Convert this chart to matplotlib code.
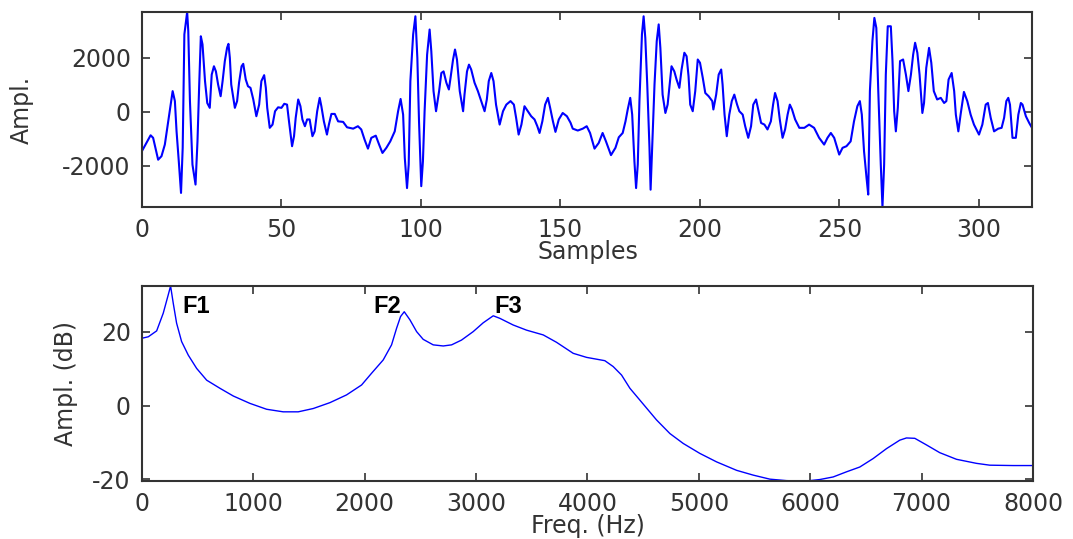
import matplotlib
matplotlib.use("Agg")
import matplotlib.pyplot as plt

# --- waveform (sample index, amplitude) ---
samples = [0, 3.1, 4, 5.8, 7, 8.2, 9.4, 11, 11.8, 12.4, 13.2, 14, 14.6, 15.2, 16.2, 16.6, 17.2, 18.1,
           19.2, 19.9, 20.5, 21.1, 21.7, 22.6, 23.4, 24.3, 25, 25.8, 26.5, 27.3, 28.2, 28.9, 29.7,
           30.5, 31, 31.5, 32, 33.3, 34.1, 34.8, 35.7, 36.3, 37.2, 38, 38.9, 39.9, 41, 42, 42.8,
           43.8, 44.4, 44.9, 45.8, 46.8, 47.7, 48.8, 50, 51, 52, 52.7, 53.8, 54.5, 55.1, 56, 56.8,
           57.5, 58.4, 59.2, 60.1, 61.1, 61.9, 62.8, 63.7, 64.3, 65.2, 66.3, 67, 67.9, 69.1, 70.3,
           72.1, 73.5,
           75.7, 77.4, 78.6, 79.8, 81, 82.2, 83.8, 85, 86.2, 87.6, 89, 90.6, 91.8, 92.7, 93.6, 94.2,
           95, 95.6, 96.2, 97.2, 98, 98.7, 99.3, 100.1, 100.7, 101.3, 102.2, 103.1, 103.7, 104.5,
           105.4, 106.5, 107.3, 108.1, 109.1, 110, 110.6, 111.5, 112.2, 112.9, 113.9, 115.1, 115.6,
           116.5, 117.2, 118, 119.2, 120.4, 121.6, 122.8, 123.6, 124.3, 125.2, 126, 126.9, 128.2,
           129.4, 130.6, 132.1, 133.3, 134.1, 135, 136, 137.1, 138.3, 139.5, 140.7, 141.7, 142.5,
           143.5, 144.5, 145.5, 146.3, 147.3, 148.2, 149.4, 150.8, 152.3,
           153.6, 154.4, 156.2, 158, 159.4, 160.6, 162.2, 163.7, 165.1, 166.3, 168.1, 169.7, 170.9,
           172.3, 173.3, 174.1, 175, 175.7, 176.5, 177.1, 177.7, 178.3, 179.2, 179.8, 180.4, 181.1,
           181.9, 182.3, 183, 183.7, 184.5, 185.2, 185.8, 186.6, 187.6, 188.4, 189, 189.8, 190.8,
           191.6, 192.6, 193.4, 194.4, 195.2, 195.9, 196.5, 197.4, 198.3, 199.2, 200, 201, 201.9,
           203.1, 204.4, 204.8, 205.8, 206.7, 207.6, 208.1, 208.8, 209.6, 210.5, 211.4, 212.3,
           213.3, 214.1, 215.3, 216.2, 217.3, 218.3, 219.1, 220.1, 221, 221.9, 223.1, 224.2, 225.4,
           226.2, 226.9, 227.8, 228.6, 229.6, 230.5, 231.4, 232.2,
           233, 234.1, 235.6, 237.4, 239.1, 240.9, 242.7, 244.5, 245.7, 246.9, 248.1, 249.9, 251.1,
           252.5, 254, 255.2, 256.4, 257.3, 258, 258.8, 259.7, 260.3, 260.9, 261.8, 262.5, 263.2,
           263.9, 264.8, 265.4, 266, 266.6, 267.3, 268.4, 269, 269.6, 270.2, 270.9, 271.7, 272.8,
           273.8, 274.7, 275.6, 276.4, 277.1, 277.9, 278.7, 279.7, 280.3, 281.1, 282.1, 282.9,
           283.8, 285, 286.3, 287.5, 288.3, 289.1, 290.2, 291.1, 291.7, 292.6, 293.4, 294.6, 295.8,
           297, 298.2, 300, 301.2, 302.4, 303.2, 304.2, 305.4, 306.9, 308.1, 309, 309.8, 310.5,
           311.1, 312, 313.2, 314.1, 315, 315.6, 316.8, 318, 319]
ampl = [-1450, -865, -960, -1770, -1640, -1210, -350, 770, 400, -720, -1830, -3000, -1330, 2870, 3700,
        2990, 400, -1950, -2690, -1090, 950, 2800, 2500, 1140, 330, 150, 1380, 1690, 1500, 1010, 580,
        1140, 1880, 2370, 2520, 2000, 1010, 150, 400, 1080, 1690, 1780, 1200, 950, 890, 460, -160,
        270, 1140, 1360, 890, 150, -590, -470, 25, 170, 150, 300, 270, -350, -1270, -900, -220, 460,
        210, -280, -530, -280, -280, -900, -720, 25, 520, 210, -350, -840, -470, -75, -75, -350,
        -370, -570,
        -620, -530, -650, -1030, -1360, -960, -880, -1210, -1520, -1330, -1090, -720, 25, 480,
        -100, -1700, -2820, -1950, 1140, 2870, 3540, 2000, -350, -2750, -1830, 25, 2120, 3050,
        2250, 770, 25, 770, 1440, 1500, 1080, 830, 1260, 1940, 2310, 1940, 770, 25, 640, 1500,
        1750, 1570, 1080, 770, 400, 25, 460, 1140, 1440, 1140, 270, -470, 25, 270, 400, 270, -220,
        -840, -470, 210, 25, -160, -280, -530, -780, -350, 270, 520, 150, -350, -740, -280, -40,
        -160,
        -400, -620, -690, -620, -530, -780, -1360, -1150, -780, -1090, -1600, -1330, -940, -780,
        -350, 90, 520, -100, -1830, -2820, -1950, 400, 2870, 3540, 2740, 1010, -1330, -2880, -960,
        1010, 2620, 3240, 2370, 640, -40, 270, 890, 1690, 1500, 1200, 890, 1570, 2190, 2060, 1320,
        270, 25, 770, 1940, 1820, 1260, 700, 580, 400, 90, 640, 1380, 1570, 1010, -100, -900, -100,
        400, 640, 270, 25, -100, -530, -960, -530, 270, 460, 25, -410, -470, -650, -350, 270, 700,
        400, -280, -960, -650, -100, 270,
        90, -280, -590, -590, -470, -590, -960, -1210, -960, -780, -960, -1580, -1330, -1270,
        -1090, -350, 210, 400, -100, -1460, -2450, -3060, 770, 2620, 3480, 3110, 770, -1950, -3520,
        -1950, 1380, 3170, 3170, 1880, 25, -720, 150, 1880, 1940, 1380, 770, 1380, 2120, 2560,
        2190, 1380, -40, 330, 1630, 2370, 1820, 770, 460, 520, 330, 400, 1200, 1440, 770, -100,
        -720, -100, 740, 400, -100, -470, -840, -470, 270, 330, -220, -720, -620, -590, -220, 400,
        520, 270, -960, -960, -100, 330, 270, -160, -410, -590]

# --- LPC envelope ---
freq = [0, 57, 132, 191, 236, 257, 281, 311, 356, 416, 491, 581, 700, 820, 969, 1119, 1268, 1403,
        1538, 1688, 1837, 1972, 2062, 2166, 2241, 2286, 2322, 2355, 2406, 2466, 2525, 2615, 2705,
        2780, 2869, 2974, 3064, 3154, 3214, 3333, 3453, 3603, 3722, 3872, 3992, 4156, 4231, 4306,
        4381, 4470, 4545, 4620, 4740, 4860, 5009, 5159, 5339, 5488, 5638, 5787, 5907, 5997, 6086,
        6206, 6326, 6445, 6565, 6685, 6804, 6864, 6939, 7044, 7163, 7313, 7492, 7612, 7821, 8000]
gain_db = [18.3, 18.7, 20.3, 25.1, 30.1, 32.5, 27.8, 22.4, 17.4, 13.7, 10.1, 6.9, 4.7, 2.6, 0.6,
           -1.0, -1.7, -1.7, -0.8, 0.8, 2.9, 5.6, 8.8, 12.4, 16.5, 21.0, 24.2, 25.5, 23.3, 20.1,
           18.0, 16.5, 16.2, 16.5, 17.8, 20.1, 22.5, 24.4, 23.7, 21.9, 20.5, 19.2, 17.2, 14.2, 13.1,
           12.2, 10.6, 8.3, 4.7, 1.5, -1.2, -3.9, -7.6, -10.3, -13.0, -15.3, -17.6, -18.9, -20.0,
           -20.4, -20.5, -20.4, -20.1, -19.4, -18.0, -16.7, -14.4, -11.7, -9.4, -8.8, -8.9, -10.7,
           -12.8, -14.6, -15.7, -16.2, -16.3, -16.3]

formants = ["F1", "F2", "F3"]
formant_pos = [(360, 26.8), (2074, 26.8), (3160, 26.8)]

plt.rcParams['font.family'] = ['DejaVu Sans']
TXT = '#333333'
FS = 17

fig = plt.figure(figsize=(10.73, 5.39), dpi=100)
ax1 = fig.add_axes([0.1323, 0.616, 0.8295, 0.3618])
ax2 = fig.add_axes([0.1323, 0.1076, 0.8304, 0.3618])

ax1.plot(samples, ampl, color='#0000ff', lw=1.5)
ax1.set_xlim(0, 319)
ax1.set_ylim(min(ampl), max(ampl))
ax1.set_xticks(range(0, 301, 50))
ax1.set_yticks([-2000, 0, 2000])
ax1.set_yticklabels(['-2000', '0', '2000'])
ax1.set_xlabel('Samples', fontsize=FS, color=TXT)
ax1.set_ylabel('Ampl.', fontsize=FS, color=TXT)
ax1.xaxis.set_label_coords(0.501, -0.17)
ax1.yaxis.set_label_coords(-0.121, 0.5)

ax2.plot(freq, gain_db, color='#0000ff', lw=1.0)
ax2.set_xlim(0, 8000)
ax2.set_ylim(min(gain_db), max(gain_db))
ax2.set_xticks(range(0, 8001, 1000))
ax2.set_yticks([-20, 0, 20])
ax2.set_yticklabels(['-20', '0', '20'])
ax2.set_xlabel('Freq. (Hz)', fontsize=FS, color=TXT)
ax2.set_ylabel('Ampl. (dB)', fontsize=FS, color=TXT)
ax2.xaxis.set_label_coords(0.5, -0.17)
ax2.yaxis.set_label_coords(-0.072, 0.5)
for name, (fx, fy) in zip(formants, formant_pos):
    ax2.text(fx, fy, name, fontsize=17, fontweight='bold', family='Liberation Sans',
             color='black', va='center', ha='left')

for ax in (ax1, ax2):
    ax.tick_params(direction='in', top=True, right=True, length=6, width=1.2,
                   labelsize=FS, labelcolor=TXT, color='#333333', pad=8)
    for sp in ax.spines.values():
        sp.set_linewidth(1.5)
        sp.set_color('#333333')

fig.savefig('out.png', dpi=100)
